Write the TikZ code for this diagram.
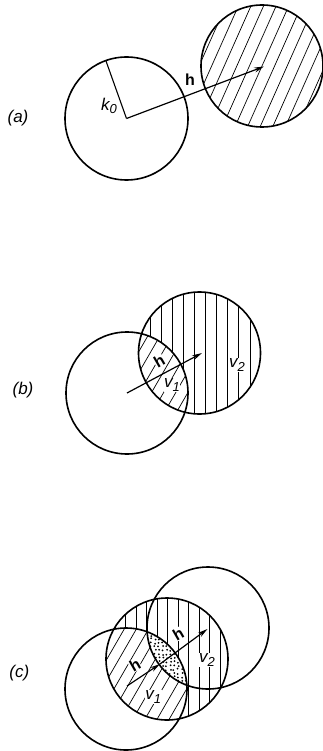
\documentclass[tikz,border=0pt]{standalone}
\usepackage{fontspec}
\setmainfont{Liberation Sans}
\usetikzlibrary{calc,arrows.meta}
\newcommand\diaghatch[4]{%
  \foreach \k in {-#4,...,#4}{%
    \draw[hatchline] ($(#1)+({\k*#3*sin(#2)},{\k*#3*cos(#2)})+({100*cos(#2)},{-100*sin(#2)})$) --
                     ($(#1)+({\k*#3*sin(#2)},{\k*#3*cos(#2)})-({100*cos(#2)},{-100*sin(#2)})$);}}
\newcommand\subs[1]{\raisebox{-0.35ex}{\fontsize{13}{14}\selectfont #1}}
\begin{document}
\begin{tikzpicture}[x=1pt,y=-1pt,
  rim/.style={line width=1.6pt},
  hatchline/.style={line width=0.7pt},
  vec/.style={line width=1.2pt,-{Stealth[length=10pt,width=5pt]}},
  lbl/.style={font=\fontsize{17}{19}\selectfont\itshape, inner sep=0.5pt},
  vlab/.style={lbl, fill=white},
  hlab/.style={font=\fontsize{16}{18}\selectfont\bfseries, inner sep=0.3pt}]
\useasboundingbox (0,0) rectangle (323,751);

% ---------------- (a)
\coordinate (a0) at (126.5,118.5);
\coordinate (a1) at (262,66);
\coordinate (a1tip) at (264,66.5);
\coordinate (ak) at ($(a0)+(-20.5,-57.5)$);
\begin{scope}
  \clip (a1) circle (61);
  \diaghatch{a1}{66}{11.5}{7}
\end{scope}
\draw[rim] (a0) circle (61.5);
\draw[rim] (a1) circle (61);
\draw[line width=1.1pt] (a0) -- (ak);
\draw[vec] (a0) -- (a1tip);
\node[lbl] (lk) at (109,106) {k\subs{0}};
\node[hlab] (lh) at (190,80) {h};
\node[lbl] (la) at (18,118) {(a)};

% ---------------- (b)
\coordinate (b0) at (127,393);
\coordinate (b1) at (199.5,353);
\coordinate (b1tip) at (202,353);
\begin{scope}
  \clip (b1) circle (61);
  \begin{scope}[even odd rule]
    \clip (0,0) rectangle (323,751) (b0) circle (61);
    \foreach \xx in {150,161.1,...,252}{\draw[hatchline] (\xx,280) -- (\xx,420);}
  \end{scope}
\end{scope}
\begin{scope}
  \clip (b1) circle (61);
  \clip (b0) circle (61);
  \diaghatch{b0}{60}{10.5}{12}
\end{scope}
\draw[rim] (b0) circle (61);
\draw[rim] (b1) circle (61);
\draw[vec] (b0) -- (b1tip);
\node[hlab, fill=white, rotate=30] (bh) at (159.3,361) {h};
\node[vlab] (bv1) at (172,385) {v\subs{1}};
\node[vlab] (bv2) at (237,365) {v\subs{2}};
\node[lbl] (lb) at (23,390) {(b)};

% ---------------- (c)
\coordinate (c0) at (126,689);
\coordinate (c1) at (167,659);
\coordinate (c2) at (208,628);
\coordinate (cst) at (127,686);
\coordinate (ctip1) at (160,664);
\coordinate (ctip2) at (207.5,629);
\begin{scope}
  \clip (c1) circle (61);
  \begin{scope}[even odd rule]
    \clip (0,0) rectangle (323,751) (c0) circle (61);
    \foreach \xx in {115,125.5,...,230}{\draw[hatchline] (\xx,590) -- (\xx,725);}
  \end{scope}
\end{scope}
\begin{scope}
  \clip (c1) circle (61);
  \clip (c0) circle (61);
  \diaghatch{c0}{60}{10.5}{12}
\end{scope}
\begin{scope}
  \clip (c0) circle (61);
  \clip (c2) circle (61);
  \fill[white] (c0) circle (61);
  \pgfmathsetseed{5}
  \foreach \i in {0,...,15}{\foreach \j in {0,...,18}{%
    \fill ({139+\i*3.8+1.8*rnd},{623+\j*3.8+1.8*rnd}) circle (1.0);}}
\end{scope}
\draw[rim] (c0) circle (61);
\draw[rim] (c1) circle (61);
\draw[rim] (c2) circle (61);
\draw[vec] (cst) -- (ctip1);
\draw[vec] (ctip1) -- (ctip2);
\node[hlab, fill=white, rotate=30] (ch1) at (135,665) {h};
\node[hlab, fill=white, rotate=30] (ch2) at (178.3,634) {h};
\node[vlab] (cv1) at (153.3,697) {v\subs{1}};
\node[vlab] (cv2) at (207,660) {v\subs{2}};
\node[lbl] (lc) at (19.3,672.7) {(c)};
\end{tikzpicture}
\end{document}
